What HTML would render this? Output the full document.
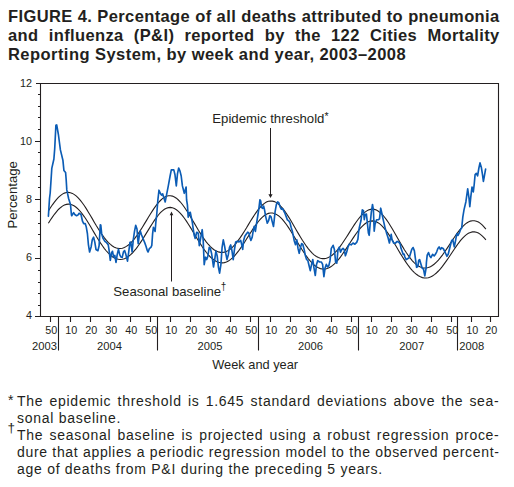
<!DOCTYPE html>
<html><head><meta charset="utf-8">
<style>
html,body{margin:0;padding:0;background:#fff;}
body{width:514px;height:487px;position:relative;overflow:hidden;font-family:"Liberation Sans",sans-serif;color:#231f20;}
.t{position:absolute;left:8px;width:491.6px;font-weight:bold;font-size:16.5px;line-height:19px;letter-spacing:0.38px;text-align:justify;text-align-last:justify;white-space:nowrap;}
.fl{position:absolute;left:17px;width:482.5px;font-size:14px;line-height:17px;letter-spacing:0.72px;text-align:justify;text-align-last:justify;white-space:nowrap;}
.fl.nl{text-align-last:left;}
.mk{position:absolute;font-size:14px;line-height:17px;}
svg{position:absolute;left:0;top:0;}
</style></head><body>
<div class="t" style="top:6.9px;">FIGURE 4. Percentage of all deaths attributed to pneumonia</div>
<div class="t" style="top:25.5px;">and influenza (P&amp;I) reported by the 122 Cities Mortality</div>
<div class="t" style="top:44.7px;text-align-last:left;letter-spacing:0.45px;">Reporting System, by week and year, 2003–2008</div>

<svg width="514" height="487" viewBox="0 0 514 487" font-family="Liberation Sans" fill="#231f20">
<g stroke="#231f20" stroke-width="1.1" fill="none">
<path d="M36 83.5H498.5V316.5H35"/>
<path d="M40.5 83V316.5"/>
<path d="M35 141.5H40.5M35 199.5H40.5M35 258.5H40.5"/>
<path d="M38 94.5H40.5M38 106.5H40.5M38 117.5H40.5M38 129.5H40.5M38 152.5H40.5M38 164.5H40.5M38 176.5H40.5M38 187.5H40.5M38 211.5H40.5M38 223.5H40.5M38 234.5H40.5M38 246.5H40.5M38 270.5H40.5M38 282.5H40.5M38 293.5H40.5M38 305.5H40.5"/>
<path d="M50.5 316.5V322M70.5 316.5V322M90.5 316.5V322M110.5 316.5V322M130.5 316.5V322M150.5 316.5V322M170.5 316.5V322M190.5 316.5V322M210.5 316.5V322M230.5 316.5V322M250.5 316.5V322M270.5 316.5V322M290.5 316.5V322M310.5 316.5V322M331.5 316.5V322M351.5 316.5V322M371.5 316.5V322M391.5 316.5V322M411.5 316.5V322M431.5 316.5V322M451.5 316.5V322M471.5 316.5V322M490.5 316.5V322"/>
<path d="M58.5 316.5V350.6M157.5 316.5V350.6M258.5 316.5V350.6M358.5 316.5V350.6M457.5 316.5V350.6"/>
</g>
<g stroke="#231f20" stroke-width="1.1" fill="none">
<path d="M48.4 210.9 50.4 207.8 52.4 204.8 54.4 202.1 56.4 199.6 58.4 197.4 60.4 195.6 62.4 194.1 64.4 193.1 66.4 192.5 68.4 192.4 70.4 192.7 72.4 193.4 74.4 194.6 76.4 196.1 78.4 198.1 80.4 200.4 82.4 203.0 84.4 205.8 86.4 208.9 88.4 212.2 90.4 215.5 92.4 218.9 94.4 222.4 96.4 225.8 98.4 229.0 100.4 232.2 102.4 235.2 104.4 237.9 106.4 240.4 108.4 242.6 110.4 244.4 112.4 246.0 114.4 247.2 116.4 248.0 118.4 248.4 120.4 248.5 122.4 248.2 124.4 247.5 126.4 246.4 128.4 245.0 130.4 243.3 132.4 241.2 134.4 238.8 136.4 236.2 138.4 233.4 140.4 230.4 142.4 227.2 144.4 223.9 146.4 220.6 148.4 217.3 150.4 214.0 152.4 210.9 154.4 207.9 156.4 205.1 158.4 202.6 160.4 200.5 162.4 198.6 164.4 197.2 166.4 196.3 168.4 195.8 170.4 195.7 172.4 196.1 174.4 197.0 176.4 198.2 178.4 200.0 180.4 202.0 182.4 204.5 184.4 207.2 186.4 210.2 188.4 213.3 190.4 216.6 192.4 220.0 194.4 223.4 196.4 226.8 198.4 230.2 200.4 233.4 202.4 236.5 204.4 239.4 206.4 242.1 208.4 244.5 210.4 246.6 212.4 248.5 214.4 250.0 216.4 251.1 218.4 251.9 220.4 252.4 222.4 252.4 224.4 252.1 226.4 251.4 228.4 250.4 230.4 249.0 232.4 247.3 234.4 245.2 236.4 242.9 238.4 240.2 240.4 237.4 242.4 234.4 244.4 231.2 246.4 228.0 248.4 224.6 250.4 221.3 252.4 218.1 254.4 215.0 256.4 212.1 258.4 209.4 260.4 207.1 262.4 205.0 264.4 203.4 266.4 202.1 268.4 201.3 270.4 201.0 272.4 201.1 274.4 201.6 276.4 202.6 278.4 204.1 280.4 205.9 282.4 208.1 284.4 210.7 286.4 213.5 288.4 216.6 290.4 219.8 292.4 223.2 294.4 226.7 296.4 230.2 298.4 233.6 300.4 237.0 302.4 240.3 304.4 243.3 306.4 246.2 308.4 248.9 310.4 251.2 312.4 253.3 314.4 255.1 316.4 256.5 318.4 257.6 320.4 258.3 322.4 258.6 324.4 258.6 326.4 258.2 328.4 257.5 330.4 256.4 332.4 255.0 334.4 253.2 336.4 251.1 338.4 248.8 340.4 246.1 342.4 243.3 344.4 240.3 346.4 237.2 348.4 234.1 350.4 230.9 352.4 227.7 354.4 224.6 356.4 221.7 358.4 219.0 360.4 216.6 362.4 214.4 364.4 212.6 366.4 211.1 368.4 210.0 370.4 209.4 372.4 209.2 374.4 209.4 376.4 210.1 378.4 211.2 380.4 212.8 382.4 214.7 384.4 217.0 386.4 219.6 388.4 222.5 390.4 225.7 392.4 229.0 394.4 232.4 396.4 236.0 398.4 239.5 400.4 243.0 402.4 246.4 404.4 249.7 406.4 252.8 408.4 255.7 410.4 258.4 412.4 260.8 414.4 262.8 416.4 264.6 418.4 266.0 420.4 267.0 422.4 267.7 424.4 268.0 426.4 267.9 428.4 267.5 430.4 266.7 432.4 265.5 434.4 264.0 436.4 262.2 438.4 260.1 440.4 257.7 442.4 255.1 444.4 252.3 446.4 249.4 448.4 246.4 450.4 243.3 452.4 240.2 454.4 237.2 456.4 234.4 458.4 231.6 460.4 229.1 462.4 226.8 464.4 224.9 466.4 223.2 468.4 222.0 470.4 221.1 472.4 220.7 474.4 220.7 476.4 221.2 478.4 222.1 480.4 223.4 482.4 225.2 484.4 227.3 485.9 229.2"/>
<path d="M48.4 223.2 50.4 220.0 52.4 217.1 54.4 214.3 56.4 211.8 58.4 209.5 60.4 207.7 62.4 206.1 64.4 205.0 66.4 204.4 68.4 204.1 70.4 204.3 72.4 205.0 74.4 206.0 76.4 207.5 78.4 209.3 80.4 211.5 82.4 214.1 84.4 216.8 86.4 219.8 88.4 223.0 90.4 226.3 92.4 229.7 94.4 233.1 96.4 236.5 98.4 239.7 100.4 242.9 102.4 245.8 104.4 248.6 106.4 251.0 108.4 253.2 110.4 255.1 112.4 256.7 114.4 257.9 116.4 258.8 118.4 259.3 120.4 259.5 122.4 259.3 124.4 258.7 126.4 257.8 128.4 256.5 130.4 254.9 132.4 253.0 134.4 250.7 136.4 248.3 138.4 245.5 140.4 242.6 142.4 239.6 144.4 236.4 146.4 233.1 148.4 229.9 150.4 226.6 152.4 223.5 154.4 220.4 156.4 217.6 158.4 215.0 160.4 212.7 162.4 210.8 164.4 209.3 166.4 208.2 168.4 207.6 170.4 207.4 172.4 207.7 174.4 208.5 176.4 209.7 178.4 211.3 180.4 213.3 182.4 215.6 184.4 218.2 186.4 221.1 188.4 224.2 190.4 227.4 192.4 230.8 194.4 234.1 196.4 237.5 198.4 240.8 200.4 243.9 202.4 247.0 204.4 249.9 206.4 252.5 208.4 254.9 210.4 257.0 212.4 258.8 214.4 260.3 216.4 261.5 218.4 262.3 220.4 262.8 222.4 262.9 224.4 262.6 226.4 261.9 228.4 261.0 230.4 259.6 232.4 257.9 234.4 256.0 236.4 253.7 238.4 251.2 240.4 248.4 242.4 245.5 244.4 242.5 246.4 239.3 248.4 236.1 250.4 233.0 252.4 229.9 254.4 226.9 256.4 224.1 258.4 221.5 260.4 219.2 262.4 217.1 264.4 215.5 266.4 214.2 268.4 213.4 270.4 213.0 272.4 213.0 274.4 213.5 276.4 214.4 278.4 215.7 280.4 217.4 282.4 219.4 284.4 221.8 286.4 224.5 288.4 227.4 290.4 230.5 292.4 233.7 294.4 237.0 296.4 240.4 298.4 243.7 300.4 247.0 302.4 250.2 304.4 253.3 306.4 256.2 308.4 258.8 310.4 261.2 312.4 263.4 314.4 265.2 316.4 266.7 318.4 267.8 320.4 268.6 322.4 269.0 324.4 269.1 326.4 268.8 328.4 268.1 330.4 267.0 332.4 265.6 334.4 263.9 336.4 261.9 338.4 259.6 340.4 257.1 342.4 254.3 344.4 251.4 346.4 248.4 348.4 245.3 350.4 242.2 352.4 239.1 354.4 236.1 356.4 233.3 358.4 230.6 360.4 228.2 362.4 226.1 364.4 224.3 366.4 222.8 368.4 221.8 370.4 221.1 372.4 220.9 374.4 221.1 376.4 221.8 378.4 222.9 380.4 224.4 382.4 226.3 384.4 228.6 386.4 231.1 388.4 233.9 390.4 237.0 392.4 240.2 394.4 243.5 396.4 246.8 398.4 250.2 400.4 253.6 402.4 256.8 404.4 259.9 406.4 262.9 408.4 265.7 410.4 268.3 412.4 270.6 414.4 272.6 416.4 274.3 418.4 275.8 420.4 276.8 422.4 277.6 424.4 278.0 426.4 278.0 428.4 277.7 430.4 277.0 432.4 276.0 434.4 274.6 436.4 273.0 438.4 271.0 440.4 268.8 442.4 266.4 444.4 263.7 446.4 260.9 448.4 258.0 450.4 255.0 452.4 252.0 454.4 249.0 456.4 246.1 458.4 243.3 460.4 240.7 462.4 238.4 464.4 236.3 466.4 234.6 468.4 233.3 470.4 232.4 472.4 231.9 474.4 231.9 476.4 232.3 478.4 233.1 480.4 234.4 482.4 236.1 484.4 238.1 485.9 239.9"/>
</g>
<path id="blue" d="M48.4 216.3 49.5 198.5 50.2 193 51.8 168.4 53.9 159 54.7 148.9 55.9 125.3 56.7 124.9 58.4 134.5 60.4 149.9 62.9 160.2 63.9 170.4 65.6 172.5 66.2 180 66.8 189.9 68.6 198.5 70.5 204.6 71.4 214.5 71.7 215.7 73.6 212.6 74.8 214.5 76.6 215.7 77.9 215.1 79.1 213.3 81 214.5 82.5 221.2 83.7 223.6 85.2 223.6 86.2 226.7 87.4 233.5 88.4 244.6 89.6 252 91.1 247 92.3 239.6 93.6 237.2 94.8 242.1 96 249.5 97.9 250.7 99.1 245.8 100.3 224.9 100.8 225 101.6 233.2 102.9 238.1 104.9 241.4 106.6 242.7 108.2 244.7 109 249.6 110.3 260.3 111.5 252.9 112.5 251.3 113.6 257 114.8 255.4 116 262.4 117.2 254.6 118.5 249.2 119.7 254.6 120.9 257 122.2 257.4 123.4 252.1 124.6 250.5 125.9 254.6 127.5 261.1 128.7 252.1 130 242.2 130.8 242.1 132.1 252 133.3 239.6 134.5 231.4 135.7 225.3 137 229 137.8 239.6 138.2 243.7 139.4 234.7 140.3 231 141.5 234.7 143.1 238.8 144.8 242.9 146 246.2 147.2 250.3 148.1 252 149.3 248.7 150.9 247.4 151.8 245.4 152.6 233.9 153.4 227.3 154.2 229 155.1 231.4 155.9 221.6 156.7 215 157.8 200.7 159 190.2 160.3 193.3 161.5 195.1 162.7 193.9 164 198.2 165.2 201.9 166.4 195.7 168.3 185.9 170.1 176 171.3 169.9 173.8 169.9 175 174.8 176.3 185.9 177.5 173.6 178.7 168 180 171.1 181.2 176 182.4 185.9 184.3 193.3 186.1 187.1 186.6 200 187.4 204.9 187.8 210.7 188.2 217.2 189 213.1 190.3 212.3 191.1 216.4 192.3 222.2 193.1 228.2 194.2 235.3 195.2 238.4 196.7 232.3 198.3 233.3 199.3 245.6 200.8 237.4 202.2 229.7 203.2 240.5 204.2 264.6 205.5 257.2 206.7 259.6 207.9 256 209.2 247.3 210.4 248.6 211.6 253.5 213.5 267 214.7 259.6 215.9 251 217.2 255.9 218.4 267 219.6 273.2 220.9 264.6 222.1 247.3 223.3 239.9 224.6 246.1 225.8 253.5 227 259.6 228.3 254.7 229.5 247.3 230.7 244.9 232 251 233.2 259.6 234.4 249.8 235.7 242 237.4 241.2 239 242 240.7 240.4 241.9 245.3 242.7 249.4 243.6 240.4 244.8 236.3 246 234.6 247.7 232.2 248.9 233 250.1 237.9 250.9 240.4 252.2 237.1 253 232.2 254.2 226.4 255.4 231.4 256.6 223.2 257.9 215 259.1 206.8 259.9 199.8 260.7 201 261.6 207.6 262.8 208.4 263.6 206 264.4 209.2 265.7 216.6 267.3 223.2 268.6 220.7 269.8 215.8 271 216.6 272.2 221.6 273.5 226.5 274.3 219.1 275.1 211.7 276.4 204.3 277.6 201.9 278.8 202.7 280.1 206.8 281.3 209.2 282.5 208.4 283.7 210.9 285 213.4 286.2 216.6 287.4 219.9 288.7 220.7 289.9 222.4 291.1 227.3 292.4 231.4 293.1 234.9 294.3 241 295.5 244.7 296.8 239.8 298 248.4 299.2 253.3 300.5 247.2 301.7 243.5 302.9 244.7 304.2 249.6 305.4 255.8 306.6 259.5 307.9 260.7 309.1 265.7 310.3 270.6 311.6 264.4 312.8 259.5 314 268.1 315.3 275.5 316.5 264.4 317.7 260.7 319.6 262 321.4 262 322.6 264.4 323.9 276.7 325.1 268.1 326.3 264.4 327.6 266.9 328.8 265.7 330 260.7 331.3 248.4 333.1 245.3 334.4 249.6 335.6 262 336.8 263.2 338 249.6 339.3 247.2 340.5 252.1 341.7 249.6 343 248.4 344.2 249.6 345.4 255.8 346.7 252.1 347.9 247.2 349.3 244.2 351.2 244.8 353 243 354.9 244.2 356.7 242.4 357.9 239.3 358.6 232 359.4 227.1 361 220.5 362.3 209.9 363.5 210.7 364.3 219.7 365.1 214.8 366.4 214 367.2 221.4 368.4 232.9 369.2 235.3 370.1 224.6 371.3 212.3 372.5 204.5 373.4 209.9 374.2 231.2 375 224.6 376.6 219.7 378.3 219.7 379.5 218.9 380.7 208.2 382 214 383.2 219.7 384.9 227.1 386.5 232.9 388.1 237.8 389.4 243 391.2 234.4 392 239.7 393.7 243.2 395.4 243.2 397.2 241.4 398.9 242.3 400.2 244 401 248.3 402.3 251.8 403.2 254.4 404.1 254 404.9 257 406.2 259.6 407.5 258.7 409.2 257.8 410.5 253.5 411.8 249.2 413.1 247.5 414.4 250.9 415.3 257.8 416.6 267.3 417.9 266.5 418.7 260.4 419.6 259.6 420.9 263.9 422.2 268.2 423.5 269 424.8 275.9 426.1 268.2 426.4 262.5 427.2 255.1 428.5 252.6 429.7 255.9 430.9 257.6 432.6 254.3 434.2 255.9 435.4 254.3 436.7 251.8 437.9 248.5 439.1 246.9 440.4 249.4 441.6 247.7 443.2 248.5 444.5 251 445.7 253.5 446.9 256.3 448.2 254.3 449.8 247.7 451.5 241.1 452.7 239.5 454.3 246.9 455.6 240.3 456.8 233.7 458 235.4 459.3 232.9 460.5 229.6 461.7 228 462.8 217.2 464 209.9 465.9 201.7 467.7 188.8 469 198 469.8 206.7 470.8 196.8 472 187 473.3 191.9 474.2 184.5 475.1 174.6 476.3 173.4 477.6 175.9 478.8 168.5 480 162.9 481.3 167.2 482.5 174.6 483.4 181.4 484.4 175.9 485.6 169.1" fill="none" stroke="#0b5cb5" stroke-width="1.65" stroke-linejoin="round" stroke-linecap="round"/>
<g font-size="10.8" text-anchor="end">
<text x="32" y="86.7">12</text>
<text x="32" y="144.5">10</text>
<text x="32" y="202.7">8</text>
<text x="32" y="260.8">6</text>
<text x="32" y="319">4</text>
</g>
<g font-size="10.8" text-anchor="middle">
<text x="51.3" y="334">50</text>
<text x="71.3" y="334">10</text>
<text x="91.3" y="334">20</text>
<text x="111.3" y="334">30</text>
<text x="131.3" y="334">40</text>
<text x="151.3" y="334">50</text>
<text x="171.3" y="334">10</text>
<text x="191.3" y="334">20</text>
<text x="211.3" y="334">30</text>
<text x="231.3" y="334">40</text>
<text x="251.3" y="334">50</text>
<text x="271.3" y="334">10</text>
<text x="291.3" y="334">20</text>
<text x="311.3" y="334">30</text>
<text x="331.8" y="334">40</text>
<text x="351.8" y="334">50</text>
<text x="371.8" y="334">10</text>
<text x="391.8" y="334">20</text>
<text x="411.8" y="334">30</text>
<text x="431.8" y="334">40</text>
<text x="452.3" y="334">50</text>
<text x="472.3" y="334">10</text>
<text x="491.3" y="334">20</text>
</g>
<g font-size="11.2" text-anchor="middle">
<text x="44.5" y="350.2">2003</text>
<text x="109.5" y="350.2">2004</text>
<text x="210" y="350.2">2005</text>
<text x="310.5" y="350.2">2006</text>
<text x="411.8" y="350.2">2007</text>
<text x="471.7" y="350.2">2008</text>
</g>
<text x="255.2" y="369" font-size="12.8" text-anchor="middle">Week and year</text>
<text transform="translate(16.9,194.8) rotate(-90)" font-size="13.2" text-anchor="middle">Percentage</text>
<text x="212.3" y="123.2" font-size="13.2">Epidemic threshold<tspan font-size="10.5" dy="-3">*</tspan></text>
<text x="113.3" y="295.8" font-size="13.2">Seasonal baseline<tspan font-size="10" dx="-0.4" dy="-6">†</tspan></text>
<g stroke="#231f20" stroke-width="1" fill="none">
<path d="M270.5 128V195M171.5 281.5V214"/>
</g>
<path d="M268.4 194.2L270.5 197.9L272.6 194.2Z M169.7 215.2L171.5 211.6L173.3 215.2Z"/>
</svg>

<div class="mk" style="left:8px;top:392.4px;">*</div>
<div class="mk" style="left:7.5px;top:419.3px;font-size:13.5px;">†</div>
<div class="fl" style="top:393.2px;">The epidemic threshold is 1.645 standard deviations above the sea-</div>
<div class="fl nl" style="top:410.2px;">sonal baseline.</div>
<div class="fl" style="top:427.2px;">The seasonal baseline is projected using a robust regression proce-</div>
<div class="fl" style="top:444.2px;letter-spacing:0.66px;">dure that applies a periodic regression model to the observed percent-</div>
<div class="fl nl" style="top:461.2px;">age of deaths from P&amp;I during the preceding 5 years.</div>
</body></html>
